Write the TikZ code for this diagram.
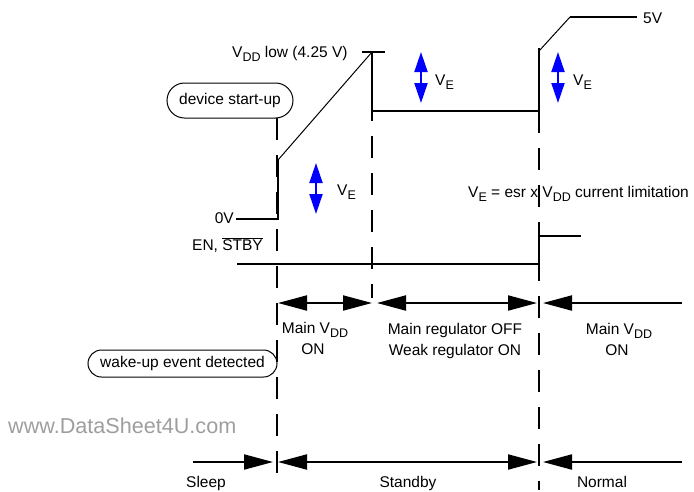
\documentclass[tikz,border=0pt]{standalone}
\usepackage{fontspec}
\setmainfont{Liberation Sans}
\usetikzlibrary{arrows.meta,shapes.misc}
\newcommand\sbs[1]{\raisebox{-4.5pt}{\fontsize{12.5}{13}\selectfont #1}}
\begin{document}
\begin{tikzpicture}[x=1pt,y=-1pt,
  txt/.style={font=\fontsize{15.5}{18}\selectfont, inner sep=0pt},
  sig/.style={line width=2.5pt},
  slope/.style={line width=1pt},
  vdash/.style={line width=2.5pt, dash pattern=on 22pt off 15pt},
  tarrow/.style={line width=2pt},
  bigR/.style={-{Triangle[length=29pt,width=15pt]}},
  bigL/.style={{Triangle[length=29pt,width=15pt]}-},
  bigLR/.style={{Triangle[length=29pt,width=15pt]}-{Triangle[length=29pt,width=15pt]}},
  ve/.style={draw=blue, line width=2pt, {Triangle[length=20pt,width=13pt,fill=blue]}-{Triangle[length=20pt,width=13pt,fill=blue]}},
  pill/.style={rounded rectangle, draw, line width=1pt, inner sep=0pt, font=\fontsize{15.5}{18}\selectfont}
]
\useasboundingbox (0,0) rectangle (694,491);

% dashed phase lines
\coordinate (d1t) at (277,118); \coordinate (d1b) at (277,483);
\coordinate (d2t) at (372,111); \coordinate (d2b) at (372,298);
\coordinate (d3t) at (539,111); \coordinate (d3b) at (539,490);
\draw[vdash] (d1t) -- (d1b);
\draw[vdash, dash phase=12pt] (d2t) -- (d2b);
\draw[vdash] (d3t) -- (d3b);

% VDD signal
\coordinate (z0) at (236,219);
\coordinate (z1) at (278,219);
\coordinate (z2) at (278,160);
\coordinate (pk) at (372,52);
\coordinate (tkL) at (362,52);
\coordinate (tkR) at (385,52);
\coordinate (lo1) at (372,111);
\coordinate (lo2) at (539,111);
\coordinate (hi1) at (539,48);
\coordinate (hs) at (539,51);
\coordinate (hi2) at (570,17);
\coordinate (hi3) at (637,17);
\draw[sig] (z0) -- (z1) -- (z2);
\draw[slope] (z2) -- (pk);
\draw[sig] (tkL) -- (tkR);
\draw[sig] (pk) -- (lo1) -- (lo2) -- (hi1);
\draw[slope] (hs) -- (hi2);
\draw[sig] (hi2) -- (hi3);

% EN, STBY signal
\coordinate (e0) at (237,264);
\coordinate (e1) at (539,264);
\coordinate (e2) at (539,236);
\coordinate (e3) at (581,236);
\draw[sig] (e0) -- (e1) -- (e2) -- (e3);

% VE arrows
\coordinate (v1t) at (316,163); \coordinate (v1b) at (316,214);
\coordinate (v2t) at (421,52);  \coordinate (v2b) at (421,103);
\coordinate (v3t) at (558,52);  \coordinate (v3b) at (558,103);
\draw[ve] (v1t) -- (v1b);
\draw[ve] (v2t) -- (v2b);
\draw[ve] (v3t) -- (v3b);

% labels
\node[txt, anchor=base west] (vddlow) at (232,57) {V\sbs{DD} low (4.25 V)};
\node[txt, anchor=base west] (fivev) at (643,23) {5V};
\node[txt, anchor=base east] (zerov) at (234,223) {0V};
\node[txt, anchor=base east] (en) at (263,250) {EN, \rule[12.2pt]{0pt}{0pt}$\overline{\hbox{STBY}}$};
\node[txt, anchor=base west] (ve1) at (337,195) {V\sbs{E}};
\node[txt, anchor=base west] (ve2) at (435,85) {V\sbs{E}};
\node[txt, anchor=base west] (ve3) at (573,85) {V\sbs{E}};
\node[txt, anchor=base west] (esr) at (468,197) {V\sbs{E} = esr x V\sbs{DD} current limitation};

\node[pill, minimum width=126pt, minimum height=35pt] (start) at (230,100.5) {device start-up};
\node[pill, minimum width=189pt, minimum height=27pt] (wake) at (182.5,363.5) {wake-up event detected};

\node[txt, anchor=base, align=center] (m1) at (315,333) {Main V\sbs{DD}};
\node[txt, anchor=base] (m1b) at (313,354) {ON};
\node[txt, anchor=base] (m2) at (455,334) {Main regulator OFF};
\node[txt, anchor=base] (m2b) at (455,355) {Weak regulator ON};
\node[txt, anchor=base] (m3) at (619,334) {Main V\sbs{DD}};
\node[txt, anchor=base] (m3b) at (617,355) {ON};

\node[txt, anchor=base] (sleep) at (206,487) {Sleep};
\node[txt, anchor=base] (stby) at (408,487) {Standby};
\node[txt, anchor=base] (norm) at (602,487) {Normal};

\node[inner sep=0pt, anchor=base west, text=black!38, font=\fontsize{21.6}{24}\selectfont] (wm) at (8,433) {www.DataSheet4U.com};

% phase arrows row 1
\coordinate (a1) at (278,303); \coordinate (a2) at (372,303);
\coordinate (a3) at (377,303); \coordinate (a4) at (537,303);
\coordinate (a5) at (543,303); \coordinate (a6) at (682,303);
\draw[tarrow, bigLR] (a1) -- (a2);
\draw[tarrow, bigLR] (a3) -- (a4);
\draw[tarrow, bigL] (a5) -- (a6);

% mode arrows row 2
\coordinate (b0) at (193,462); \coordinate (b1) at (273,462);
\coordinate (b2) at (278,462); \coordinate (b3) at (537,462);
\coordinate (b4) at (543,462); \coordinate (b5) at (682,462);
\draw[tarrow, bigR] (b0) -- (b1);
\draw[tarrow, bigLR] (b2) -- (b3);
\draw[tarrow, bigL] (b4) -- (b5);
\end{tikzpicture}
\end{document}
